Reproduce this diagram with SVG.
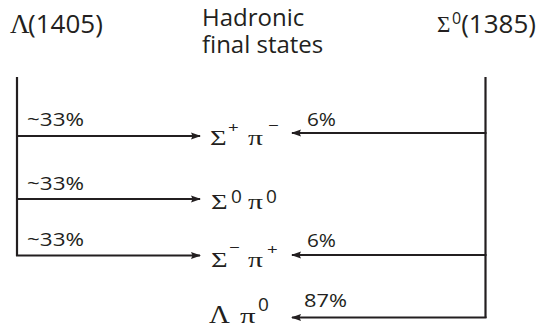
<svg xmlns="http://www.w3.org/2000/svg" width="538" height="329" viewBox="0 0 538 329">
<style>
.sans{font-family:"Open Sans","Noto Sans",sans-serif;fill:#231f20}
.serif{font-family:"Liberation Serif","DejaVu Serif",serif;fill:#231f20}
.pct{font-size:18px}
.ln{stroke:#231f20;stroke-width:2.2;fill:none}
</style>
<defs>
<marker id="ah" markerWidth="10" markerHeight="8" refX="9" refY="4" orient="auto" markerUnits="userSpaceOnUse">
<path d="M0,0.5 L10,4 L0,7.5 L1.5,4 Z" fill="#231f20"/>
</marker>
</defs>
<g id="title-lambda">
<text x="10" y="33" class="serif" font-size="27">Λ</text>
<text x="28" y="33" class="sans" font-size="26">(1405)</text>
</g>
<g id="title-hadronic">
<text class="sans" font-size="24"><tspan x="202" y="26">Hadronic</tspan><tspan x="202" y="53">final states</tspan></text>
</g>
<g id="title-sigma">
<text x="437" y="32" class="serif" font-size="23">Σ</text>
<text x="452" y="24" class="sans" font-size="16">0</text>
<text x="536" y="33" class="sans" font-size="26" text-anchor="end">(1385)</text>
</g>
<g id="connectors">
<path class="ln" d="M17,77 V256"/>
<path class="ln" d="M485.5,77 V318"/>
<path class="ln" d="M16,136 H200" marker-end="url(#ah)"/>
<path class="ln" d="M16,199 H200" marker-end="url(#ah)"/>
<path class="ln" d="M16,255.5 H200" marker-end="url(#ah)"/>
<path class="ln" d="M486.5,133 H292" marker-end="url(#ah)"/>
<path class="ln" d="M486.5,255 H292" marker-end="url(#ah)"/>
<path class="ln" d="M486.5,317.5 H292" marker-end="url(#ah)"/>
</g>
<g id="labels">
<text x="27" y="126" class="sans pct" textLength="57" lengthAdjust="spacingAndGlyphs">~33%</text>
<text x="27" y="190" class="sans pct" textLength="57" lengthAdjust="spacingAndGlyphs">~33%</text>
<text x="27" y="246" class="sans pct" textLength="57" lengthAdjust="spacingAndGlyphs">~33%</text>
<text x="307" y="126" class="sans pct" textLength="29" lengthAdjust="spacingAndGlyphs">6%</text>
<text x="307" y="247" class="sans pct" textLength="29" lengthAdjust="spacingAndGlyphs">6%</text>
<text x="304" y="307" class="sans pct" textLength="43" lengthAdjust="spacingAndGlyphs">87%</text>
</g>
<g id="state-sigmaplus-piminus">
<text class="serif" font-size="22" transform="translate(210,145) scale(1.3,1)">Σ</text>
<text class="sans" font-size="15" transform="translate(228,133) scale(1.25,1)">+</text>
<text class="serif" font-size="22" transform="translate(248,145) scale(1.35,1)">π</text>
<text class="sans" font-size="15" transform="translate(268,131) scale(1.25,1)">−</text>
</g>
<g id="state-sigma0-pi0">
<text class="serif" font-size="22" transform="translate(211,209) scale(1.3,1)">Σ</text>
<text class="sans" font-size="19" x="231" y="203">0</text>
<text class="serif" font-size="22" transform="translate(248,209) scale(1.35,1)">π</text>
<text class="sans" font-size="19" x="266" y="203">0</text>
</g>
<g id="state-sigmaminus-piplus">
<text class="serif" font-size="22" transform="translate(211,267) scale(1.3,1)">Σ</text>
<text class="sans" font-size="15" transform="translate(229,253) scale(1.25,1)">−</text>
<text class="serif" font-size="22" transform="translate(248,267) scale(1.35,1)">π</text>
<text class="sans" font-size="15" transform="translate(267,255) scale(1.25,1)">+</text>
</g>
<g id="state-lambda-pi0">
<text class="serif" font-size="25" transform="translate(209,323) scale(1.15,1)">Λ</text>
<text class="serif" font-size="22" transform="translate(240,323) scale(1.4,1)">π</text>
<text class="sans" font-size="19" x="258" y="311">0</text>
</g>
</svg>
